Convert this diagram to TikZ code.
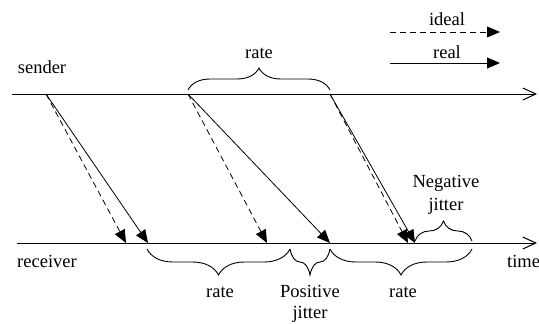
\documentclass[tikz,border=0pt]{standalone}
\usepackage{fontspec}
\setmainfont{Liberation Serif}
\usetikzlibrary{arrows.meta,decorations.pathreplacing}
\begin{document}
\begin{tikzpicture}[x=1pt,y=-1pt,
  lbl/.style={font=\fontsize{18.5}{21}\selectfont, inner sep=0pt, anchor=base},
  axis/.style={line width=1pt, -{Straight Barb[length=13pt,width=12pt,line width=1pt]}},
  sig/.style={line width=0.8pt, -{Triangle[length=13pt,width=11pt]}},
  idealsig/.style={sig, dash pattern=on 6pt off 4pt},
  brc/.style={decorate, decoration={brace, amplitude=#1}, line width=0.9pt},
]
\useasboundingbox (0,0) rectangle (539,324);
% axes
\coordinate (s0) at (12,94);  \coordinate (s1) at (537,94);
\coordinate (r0) at (17,243); \coordinate (r1) at (537,243);
\draw[axis] (s0) -- (s1);
\draw[axis] (r0) -- (r1);
% send points
\coordinate (a1) at (46,94);
\coordinate (a2) at (188,94);
\coordinate (a3) at (330,94);
% receive points
\coordinate (bi1) at (126,243); \coordinate (br1) at (148,243);
\coordinate (bi2) at (267,243); \coordinate (br2) at (330,243);
\coordinate (bi3) at (408,243); \coordinate (br3) at (415,243);
\draw[idealsig] (a1) -- (bi1);
\draw[sig] (a1) -- (br1);
\draw[idealsig] (a2) -- (bi2);
\draw[sig] (a2) -- (br2);
\draw[idealsig] (a3) -- (bi3);
\draw[sig] (a3) -- (br3);
% labels
\node[lbl] (snd) at (42,74) {sender};
\node[lbl] (rcv) at (47,267) {receiver};
\node[lbl, anchor=base west] (tim) at (507,267) {time};
% legend
\coordinate (li0) at (390,32); \coordinate (li1) at (500,32);
\coordinate (lr0) at (390,63); \coordinate (lr1) at (500,63);
\draw[idealsig] (li0) -- (li1);
\draw[sig] (lr0) -- (lr1);
\node[lbl] (lid) at (447,26) {ideal};
\node[lbl] (lre) at (447,58) {real};
% braces
\coordinate (t0) at (188,90); \coordinate (t1) at (330,90);
\draw[brc=22pt] (t0) -- (t1);
\node[lbl] (trate) at (259,58) {rate};
\coordinate (b0) at (147,249); \coordinate (b1) at (290,249);
\coordinate (b2) at (330,249); \coordinate (b3) at (472,249);
\draw[brc=26pt] (b1) -- (b0);
\draw[brc=26pt] (b2) -- (b1);
\draw[brc=26pt] (b3) -- (b2);
\node[lbl] (brate1) at (220,297) {rate};
\node[lbl] (pos1) at (310,297) {Positive};
\node[lbl] (pos2) at (310,318) {jitter};
\node[lbl] (brate2) at (403,297) {rate};
\coordinate (n0) at (415,241); \coordinate (n1) at (472,241);
\draw[brc=20pt] (n0) -- (n1);
\node[lbl] (neg1) at (446,187) {Negative};
\node[lbl] (neg2) at (446,210) {jitter};
\end{tikzpicture}
\end{document}
